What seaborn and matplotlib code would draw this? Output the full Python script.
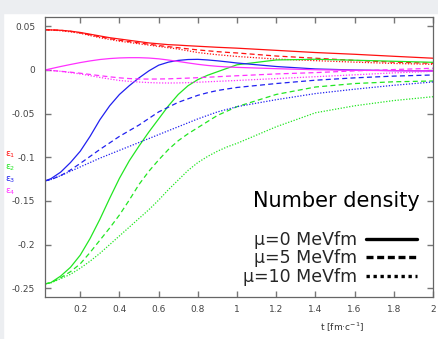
import numpy as np
import pandas as pd
import matplotlib
matplotlib.use("Agg")
import matplotlib.pyplot as plt
from matplotlib.lines import Line2D
from matplotlib.patches import Rectangle
import seaborn as sns

# time grid [fm/c]
t = [0.02, 0.05, 0.1, 0.15, 0.2, 0.25, 0.3, 0.35, 0.4, 0.45, 0.5, 0.55, 0.6, 0.65,
     0.7, 0.75, 0.8, 0.85, 0.9, 0.95, 1.0, 1.2, 1.4, 1.6, 1.8, 2.0]

# eps1 (red)
e1_mu0 = [0.046, 0.0459, 0.0455, 0.0445, 0.043, 0.041, 0.039, 0.037, 0.0355, 0.034, 0.0325, 0.031, 0.030,
          0.029, 0.0285, 0.0278, 0.0272, 0.0266, 0.026, 0.0255, 0.025, 0.0225, 0.020, 0.018, 0.0157, 0.0135]
e1_mu5 = [0.046, 0.0459, 0.0455, 0.0443, 0.0425, 0.0403, 0.038, 0.036, 0.034, 0.0325, 0.031, 0.0295, 0.028,
          0.0267, 0.0255, 0.0242, 0.023, 0.022, 0.021, 0.0202, 0.0195, 0.016, 0.0135, 0.011, 0.009, 0.0077]
e1_mu10 = [0.046, 0.0458, 0.045, 0.0437, 0.042, 0.0395, 0.037, 0.035, 0.033, 0.0315, 0.030, 0.0285, 0.027,
           0.0255, 0.024, 0.022, 0.020, 0.0187, 0.0175, 0.0165, 0.0155, 0.0125, 0.0107, 0.009, 0.0075, 0.0065]

# eps2 (green)
e2_mu0 = [-0.245, -0.2435, -0.236, -0.226, -0.212, -0.193, -0.171, -0.147, -0.124, -0.104, -0.087, -0.071, -0.056,
          -0.041, -0.028, -0.018, -0.011, -0.006, -0.002, 0.002, 0.006, 0.0115, 0.0123, 0.0112, 0.010, 0.0088]
e2_mu5 = [-0.245, -0.2437, -0.238, -0.231, -0.222, -0.209, -0.195, -0.181, -0.166, -0.149, -0.131, -0.116, -0.103,
          -0.091, -0.081, -0.073, -0.066, -0.059, -0.052, -0.047, -0.042, -0.028, -0.0195, -0.0155, -0.0135, -0.0126]
e2_mu10 = [-0.245, -0.2438, -0.239, -0.234, -0.227, -0.219, -0.210, -0.200, -0.190, -0.180, -0.170, -0.160, -0.149,
           -0.137, -0.126, -0.115, -0.106, -0.099, -0.093, -0.088, -0.084, -0.065, -0.049, -0.041, -0.035, -0.0306]

# eps3 (blue)
e3_mu0 = [-0.127, -0.1245, -0.117, -0.106, -0.093, -0.076, -0.057, -0.041, -0.028, -0.018, -0.009, -0.001, 0.0055,
          0.009, 0.011, 0.012, 0.0122, 0.0115, 0.0105, 0.0093, 0.008, 0.004, 0.0012, 0.0, -0.0007, -0.001]
e3_mu5 = [-0.127, -0.1255, -0.121, -0.1145, -0.107, -0.099, -0.091, -0.0835, -0.076, -0.0695, -0.063, -0.0555, -0.048,
          -0.0425, -0.037, -0.033, -0.029, -0.026, -0.0235, -0.0217, -0.020, -0.0155, -0.0117, -0.009, -0.007, -0.0057]
e3_mu10 = [-0.127, -0.1255, -0.121, -0.116, -0.111, -0.106, -0.101, -0.0965, -0.092, -0.0875, -0.083, -0.0785, -0.074,
           -0.0695, -0.065, -0.0605, -0.056, -0.052, -0.048, -0.045, -0.042, -0.034, -0.027, -0.022, -0.0175, -0.0137]

# eps4 (magenta)
e4_mu0 = [0.0, 0.0015, 0.004, 0.0063, 0.0085, 0.0104, 0.012, 0.0131, 0.0138, 0.0141, 0.0141, 0.0137, 0.0128,
          0.0114, 0.0098, 0.0081, 0.0065, 0.0052, 0.0042, 0.0035, 0.003, 0.0015, 0.0003, -0.0003, -0.0008, -0.001]
e4_mu5 = [0.0, -0.0005, -0.0015, -0.0025, -0.0037, -0.0051, -0.0065, -0.0078, -0.009, -0.0098, -0.0103, -0.0104, -0.0103,
          -0.0101, -0.0097, -0.0093, -0.0088, -0.0083, -0.0077, -0.0071, -0.0066, -0.0045, -0.003, -0.001, 0.0005, 0.002]
e4_mu10 = [0.0, -0.0005, -0.0015, -0.003, -0.0045, -0.0065, -0.0085, -0.0103, -0.012, -0.013, -0.0138, -0.0144, -0.0148,
           -0.0149, -0.0148, -0.0145, -0.014, -0.0135, -0.013, -0.0125, -0.012, -0.0098, -0.0077, -0.0055, -0.0033, -0.0015]

components = ["e1", "e2", "e3", "e4"]
mus = ["0", "5", "10"]
series = {
    ("e1", "0"): e1_mu0, ("e1", "5"): e1_mu5, ("e1", "10"): e1_mu10,
    ("e2", "0"): e2_mu0, ("e2", "5"): e2_mu5, ("e2", "10"): e2_mu10,
    ("e3", "0"): e3_mu0, ("e3", "5"): e3_mu5, ("e3", "10"): e3_mu10,
    ("e4", "0"): e4_mu0, ("e4", "5"): e4_mu5, ("e4", "10"): e4_mu10,
}

rows = []
for (comp, mu), vals in series.items():
    assert len(vals) == len(t), (comp, mu, len(vals))
    for tt, v in zip(t, vals):
        rows.append({"t": tt, "value": v, "component": comp, "mu": mu})
df = pd.DataFrame(rows)

colors = {"e1": "#ff1010", "e2": "#22e622", "e3": "#2020f0", "e4": "#ff30ff"}
dashes = {"0": "", "5": (4, 2.6), "10": (1, 1.3)}

sns.set_style("white")
plt.rcParams["font.family"] = ["DejaVu Sans"]
plt.rcParams["axes.unicode_minus"] = False

fig = plt.figure(figsize=(4.38, 3.39), dpi=100, facecolor="white")
# light grey strips of the page behind
fig.patches.append(Rectangle((0, 1 - 13 / 339), 1, 13 / 339, transform=fig.transFigure,
                             color="#eceef1", zorder=-10))
fig.patches.append(Rectangle((0, 0), 3 / 438, 1, transform=fig.transFigure,
                             color="#eceef1", zorder=-10))

ax = fig.add_axes([45 / 438, 42 / 339, 388 / 438, 280 / 339])
sns.lineplot(data=df, x="t", y="value", hue="component", style="mu",
             palette=colors, dashes=dashes, hue_order=components, style_order=mus,
             estimator=None, sort=False, legend=False, linewidth=0.9, ax=ax)

ax.set_xlim(0.02, 2.0)
ax.set_ylim(-0.26, 0.0607)
ax.set_xticks(np.arange(0.2, 2.01, 0.2))
ax.set_xticklabels(["0.2", "0.4", "0.6", "0.8", "1", "1.2", "1.4", "1.6", "1.8", "2"])
ax.set_yticks([-0.25, -0.2, -0.15, -0.1, -0.05, 0, 0.05])
ax.set_yticklabels(["-0.25", "-0.2", "-0.15", "-0.1", "-0.05", "0", "0.05"])
ax.tick_params(axis="both", direction="in", length=4, width=1, colors="#777777",
               labelcolor="#444444", labelsize=6.5)
ax.tick_params(axis="x", top=True, bottom=True, pad=6)
ax.tick_params(axis="y", left=True, right=True, pad=7)
for sp in ax.spines.values():
    sp.set_color("#666666")
    sp.set_linewidth(0.9)

ax.set_ylabel("")
ax.set_xlabel("t [fm·c$^{-1}$]", fontsize=6.5, color="#333333")
ax.xaxis.set_label_coords(0.765, -0.085)

# component labels on the left
eps_labels = ["ε$_1$", "ε$_2$", "ε$_3$", "ε$_4$"]
eps_y = [155, 168, 180, 192]
for lab, comp, yy in zip(eps_labels, components, eps_y):
    fig.text(5 / 438, 1 - yy / 339, lab, color=colors[comp], fontsize=6.5, va="center", ha="left")

ax.text(0.966, 0.323, "Number density", transform=ax.transAxes, ha="right",
        va="baseline", fontsize=15, color="black")

handles = [Line2D([0], [0], color="black", lw=2.4),
           Line2D([0], [0], color="black", lw=2.4, dashes=(2.1, 1.1)),
           Line2D([0], [0], color="black", lw=2.4, dashes=(1, 1.1))]
leg_labels = ["μ=0 MeVfm", "μ=5 MeVfm", "μ=10 MeVfm"]
ax.legend(handles, leg_labels, loc="upper right", bbox_to_anchor=(0.958, 0.236),
          markerfirst=False, frameon=False, fontsize=12.5, handlelength=2.9,
          handletextpad=0.55, labelspacing=0.02, borderpad=0, borderaxespad=0)

fig.savefig("out.png", dpi=100, facecolor=fig.get_facecolor())
